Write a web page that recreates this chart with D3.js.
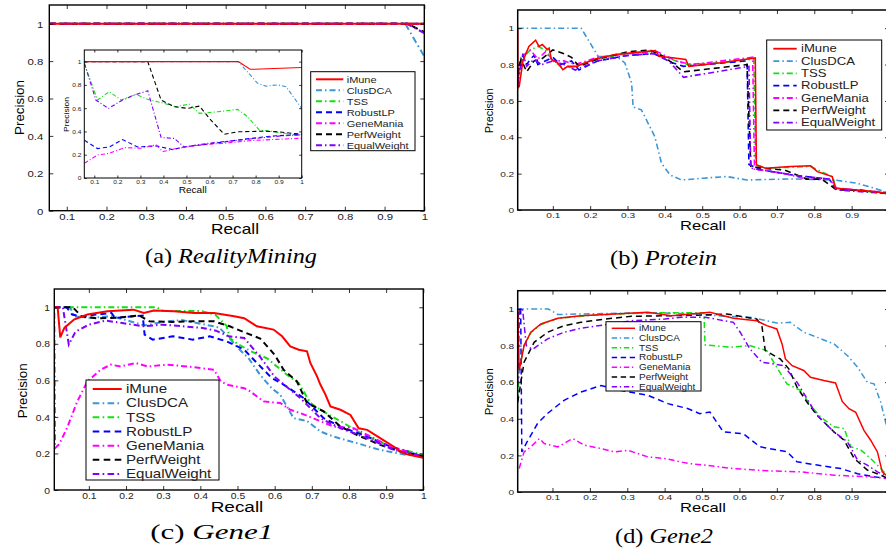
<!DOCTYPE html>
<html>
<head>
<meta charset="utf-8">
<script src="https://cdn.jsdelivr.net/npm/d3@7"></script>
<style>
  body { margin: 0; background: #fff; }
  text { font-family: "Liberation Sans", Arial, sans-serif; }
</style>
</head>
<body>
<svg id="fig" width="886" height="554"></svg>
<script>
// series names, in legend order
var methods = ["iMune", "ClusDCA", "TSS", "RobustLP", "GeneMania", "PerfWeight", "EqualWeight"];

var precisionTicks = [0, 0.2, 0.4, 0.6, 0.8, 1];
var precisionLabels = ["0", "0.2", "0.4", "0.6", "0.8", "1"];
var recallTicks = [0.1, 0.2, 0.3, 0.4, 0.5, 0.6, 0.7, 0.8, 0.9, 1];
var recallLabels = ["0.1", "0.2", "0.3", "0.4", "0.5", "0.6", "0.7", "0.8", "0.9", "1"];

var captions = [["(a) ", "RealityMining"], ["(b) ", "Protein"], ["(c) ", "Gene1"], ["(d) ", "Gene2"]];

// (a) RealityMining, [recall, precision] per method
var realityMining = [
    [[0.056, 1], [1, 1]],
    [[0.056, 1], [0.952, 1], [1, 0.825]],
    [[0.056, 1], [1, 1]],
    [[0.056, 1], [1, 1]],
    [[0.056, 1], [1, 1]],
    [[0.056, 1], [0.958, 1], [1, 0.955]],
    [[0.056, 1], [0.955, 1], [1, 0.95]]
];

// (a) inset
var realityInset = [
    [[0.057, 1], [0.725, 1], [0.776, 0.934], [1, 0.949]],
    [[0.057, 1], [0.725, 1], [0.77, 0.9], [0.809, 0.813], [0.845, 0.79], [0.896, 0.8], [0.932, 0.785], [1, 0.598]],
    [[0.057, 0.98], [0.114, 0.67], [0.165, 0.742], [0.216, 0.67], [0.281, 0.719], [0.332, 0.676], [0.404, 0.641],
     [0.455, 0.612], [0.512, 0.635], [0.556, 0.555], [0.635, 0.569], [0.722, 0.59], [0.766, 0.526], [0.816, 0.411],
     [0.867, 0.402], [0.925, 0.382], [1, 0.368]],
    [[0.057, 0.325], [0.114, 0.253], [0.165, 0.267], [0.223, 0.33], [0.288, 0.267], [0.368, 0.276], [0.44, 0.244],
     [0.49, 0.267], [0.635, 0.302], [0.737, 0.33], [0.867, 0.36], [1, 0.374]],
    [[0.057, 0.126], [0.114, 0.198], [0.165, 0.212], [0.23, 0.261], [0.303, 0.256], [0.368, 0.284], [0.397, 0.227],
     [0.462, 0.256], [0.563, 0.284], [0.664, 0.299], [0.78, 0.322], [1, 0.342]],
    [[0.057, 1], [0.332, 1], [0.39, 0.67], [0.447, 0.612], [0.505, 0.598], [0.556, 0.618], [0.606, 0.497],
     [0.664, 0.376], [0.722, 0.397], [0.824, 0.402], [0.896, 0.397], [1, 0.376]],
    [[0.057, 0.986], [0.107, 0.67], [0.161, 0.598], [0.223, 0.67], [0.274, 0.713], [0.332, 0.75], [0.39, 0.348],
     [0.447, 0.34], [0.49, 0.267], [0.6, 0.3], [0.75, 0.33], [0.9, 0.36], [1, 0.372]]
];

// (b) Protein
var protein = [
    [[0.006, 1], [0.006, 0.67], [0.01, 0.68], [0.02, 0.82], [0.036, 0.9], [0.054, 0.934], [0.063, 0.9], [0.072, 0.91],
     [0.085, 0.882], [0.09, 0.89], [0.096, 0.83], [0.113, 0.809], [0.127, 0.772], [0.14, 0.79], [0.163, 0.79],
     [0.213, 0.83], [0.267, 0.855], [0.312, 0.864], [0.375, 0.877], [0.384, 0.846], [0.42, 0.837], [0.456, 0.828],
     [0.464, 0.79], [0.55, 0.81], [0.642, 0.836], [0.645, 0.248], [0.669, 0.23], [0.736, 0.239], [0.79, 0.243],
     [0.808, 0.211], [0.848, 0.184], [0.857, 0.12], [0.915, 0.11], [0.96, 0.101], [1, 0.09]],
    [[0.006, 1], [0.176, 1], [0.221, 0.846], [0.275, 0.837], [0.293, 0.809], [0.311, 0.698], [0.315, 0.566],
     [0.337, 0.551], [0.373, 0.404], [0.391, 0.257], [0.414, 0.193], [0.445, 0.165], [0.503, 0.175], [0.566, 0.184],
     [0.62, 0.165], [0.736, 0.171], [0.853, 0.165], [0.915, 0.147], [0.96, 0.12], [1, 0.093]],
    [[0.006, 0.72], [0.02, 0.84], [0.04, 0.88], [0.06, 0.9], [0.08, 0.88], [0.1, 0.82], [0.13, 0.78], [0.16, 0.79],
     [0.22, 0.83], [0.3, 0.86], [0.375, 0.875], [0.4, 0.84], [0.46, 0.8], [0.55, 0.81], [0.638, 0.83], [0.643, 0.25],
     [0.67, 0.23], [0.74, 0.235], [0.79, 0.24], [0.85, 0.18], [0.857, 0.12], [1, 0.09]],
    [[0.006, 0.68], [0.01, 0.8], [0.02, 0.85], [0.03, 0.8], [0.04, 0.83], [0.05, 0.85], [0.06, 0.8], [0.08, 0.82],
     [0.1, 0.84], [0.12, 0.8], [0.15, 0.82], [0.17, 0.77], [0.22, 0.82], [0.3, 0.85], [0.37, 0.86], [0.42, 0.81],
     [0.45, 0.79], [0.62, 0.82], [0.625, 0.25], [0.66, 0.22], [0.75, 0.19], [0.84, 0.17], [0.855, 0.12],
     [0.93, 0.105], [1, 0.09]],
    [[0.006, 0.7], [0.02, 0.85], [0.04, 0.88], [0.06, 0.83], [0.08, 0.87], [0.1, 0.82], [0.13, 0.82], [0.16, 0.8],
     [0.22, 0.84], [0.3, 0.86], [0.38, 0.87], [0.43, 0.82], [0.47, 0.8], [0.635, 0.84], [0.64, 0.22], [0.66, 0.22],
     [0.72, 0.2], [0.78, 0.17], [0.84, 0.17], [0.86, 0.12], [1, 0.095]],
    [[0.006, 0.75], [0.015, 0.83], [0.03, 0.76], [0.05, 0.82], [0.07, 0.83], [0.1, 0.88], [0.13, 0.86], [0.15, 0.84],
     [0.17, 0.79], [0.22, 0.83], [0.3, 0.87], [0.36, 0.88], [0.4, 0.84], [0.45, 0.76], [0.62, 0.8], [0.63, 0.24],
     [0.66, 0.23], [0.72, 0.22], [0.78, 0.17], [0.82, 0.17], [0.86, 0.11], [0.92, 0.11], [1, 0.09]],
    [[0.006, 0.7], [0.02, 0.86], [0.03, 0.79], [0.05, 0.83], [0.07, 0.8], [0.1, 0.82], [0.13, 0.8], [0.16, 0.77],
     [0.22, 0.82], [0.3, 0.85], [0.37, 0.86], [0.41, 0.82], [0.45, 0.73], [0.625, 0.79], [0.63, 0.23], [0.66, 0.22],
     [0.75, 0.19], [0.84, 0.17], [0.86, 0.11], [1, 0.09]]
];

// (c) Gene1
var gene1 = [
    [[0.007, 1], [0.016, 1], [0.023, 0.835], [0.034, 0.887], [0.06, 0.933], [0.096, 0.96], [0.15, 0.978], [0.22, 0.987],
     [0.248, 0.969], [0.275, 0.982], [0.329, 0.978], [0.383, 0.969], [0.437, 0.969], [0.491, 0.951], [0.518, 0.94],
     [0.552, 0.896], [0.597, 0.878], [0.62, 0.841], [0.642, 0.786], [0.665, 0.768], [0.687, 0.759], [0.696, 0.695],
     [0.714, 0.622], [0.723, 0.577], [0.737, 0.521], [0.75, 0.457], [0.777, 0.439], [0.804, 0.411], [0.826, 0.338],
     [0.849, 0.329], [0.884, 0.284], [0.92, 0.238], [0.947, 0.201], [0.965, 0.192], [1, 0.177]],
    [[0.007, 1], [0.05, 1], [0.06, 0.95], [0.107, 0.942], [0.161, 0.951], [0.2, 0.93], [0.25, 0.9], [0.3, 0.92],
     [0.35, 0.93], [0.4, 0.91], [0.45, 0.89], [0.47, 0.85], [0.5, 0.78], [0.53, 0.72], [0.561, 0.63], [0.592, 0.557],
     [0.615, 0.521], [0.651, 0.393], [0.687, 0.378], [0.723, 0.32], [0.759, 0.292], [0.822, 0.256], [0.884, 0.219],
     [0.956, 0.192], [1, 0.186]],
    [[0.007, 1], [0.282, 1], [0.3, 0.98], [0.4, 0.98], [0.44, 0.96], [0.47, 0.9], [0.48, 0.83], [0.5, 0.8],
     [0.535, 0.76], [0.58, 0.72], [0.633, 0.631], [0.665, 0.585], [0.696, 0.476], [0.723, 0.439], [0.786, 0.366],
     [0.831, 0.311], [0.911, 0.238], [1, 0.192]],
    [[0.007, 1], [0.04, 1], [0.055, 0.96], [0.082, 0.95], [0.12, 0.96], [0.161, 0.969], [0.17, 0.942], [0.245, 0.955],
     [0.25, 0.85], [0.272, 0.823], [0.326, 0.841], [0.38, 0.823], [0.425, 0.841], [0.47, 0.814], [0.518, 0.768],
     [0.55, 0.7], [0.592, 0.613], [0.624, 0.577], [0.678, 0.503], [0.732, 0.393], [0.777, 0.347], [0.849, 0.292],
     [0.911, 0.238], [1, 0.183]],
    [[0.007, 0.97], [0.009, 0.229], [0.02, 0.25], [0.041, 0.338], [0.069, 0.485], [0.096, 0.594], [0.132, 0.658],
     [0.159, 0.686], [0.186, 0.676], [0.226, 0.695], [0.258, 0.676], [0.312, 0.686], [0.365, 0.676], [0.401, 0.667],
     [0.437, 0.658], [0.455, 0.594], [0.473, 0.576], [0.518, 0.557], [0.534, 0.54], [0.57, 0.485], [0.615, 0.476],
     [0.642, 0.439], [0.669, 0.421], [0.714, 0.384], [0.759, 0.347], [0.813, 0.338], [0.867, 0.284], [0.911, 0.238],
     [1, 0.183]],
    [[0.007, 1], [0.057, 1], [0.08, 0.95], [0.12, 0.94], [0.174, 0.942], [0.236, 0.955], [0.263, 0.923], [0.326, 0.92],
     [0.38, 0.923], [0.437, 0.923], [0.479, 0.896], [0.516, 0.865], [0.561, 0.829], [0.588, 0.768], [0.6, 0.74],
     [0.624, 0.658], [0.66, 0.594], [0.687, 0.476], [0.732, 0.43], [0.777, 0.347], [0.822, 0.301], [0.884, 0.247],
     [0.938, 0.21], [1, 0.183]],
    [[0.007, 1], [0.03, 1], [0.046, 0.796], [0.064, 0.866], [0.1, 0.905], [0.145, 0.927], [0.19, 0.914], [0.244, 0.896],
     [0.298, 0.905], [0.352, 0.896], [0.406, 0.887], [0.442, 0.872], [0.477, 0.841], [0.518, 0.832], [0.561, 0.728],
     [0.6, 0.62], [0.669, 0.503], [0.723, 0.393], [0.777, 0.338], [0.849, 0.284], [0.92, 0.22], [1, 0.183]]
];

// (d) Gene2
var gene2 = [
    [[0.007, 1], [0.011, 0.664], [0.024, 0.8], [0.042, 0.873], [0.069, 0.918], [0.114, 0.949], [0.176, 0.963],
     [0.266, 0.973], [0.355, 0.982], [0.418, 0.963], [0.521, 0.982], [0.584, 0.949], [0.646, 0.936], [0.673, 0.909],
     [0.7, 0.891], [0.714, 0.809], [0.723, 0.727], [0.741, 0.69], [0.772, 0.664], [0.79, 0.627], [0.826, 0.609],
     [0.857, 0.596], [0.875, 0.495], [0.893, 0.455], [0.911, 0.436], [0.933, 0.337], [0.951, 0.283], [0.969, 0.219],
     [0.982, 0.11], [1, 0.08]],
    [[0.007, 1], [0.089, 1], [0.114, 0.97], [0.36, 0.98], [0.494, 0.973], [0.557, 0.96], [0.628, 0.955], [0.673, 0.936],
     [0.7, 0.923], [0.736, 0.927], [0.772, 0.873], [0.808, 0.845], [0.853, 0.809], [0.889, 0.745], [0.916, 0.682],
     [0.942, 0.6], [0.96, 0.591], [0.978, 0.49], [0.991, 0.381], [1, 0.3]],
    [[0.007, 0.5], [0.012, 0.68], [0.024, 0.8], [0.042, 0.87], [0.069, 0.915], [0.114, 0.948], [0.2, 0.965],
     [0.3, 0.975], [0.4, 0.98], [0.505, 0.98], [0.508, 0.804], [0.575, 0.791], [0.628, 0.8], [0.673, 0.773],
     [0.705, 0.664], [0.727, 0.591], [0.763, 0.555], [0.79, 0.473], [0.817, 0.41], [0.853, 0.356], [0.88, 0.347],
     [0.898, 0.247], [0.925, 0.229], [0.951, 0.183], [0.978, 0.128], [1, 0.08]],
    [[0.007, 0.95], [0.012, 1], [0.015, 1], [0.018, 0.219], [0.032, 0.274], [0.06, 0.374], [0.086, 0.428],
     [0.131, 0.501], [0.176, 0.546], [0.23, 0.582], [0.284, 0.555], [0.355, 0.528], [0.409, 0.483], [0.463, 0.455],
     [0.494, 0.428], [0.521, 0.437], [0.557, 0.328], [0.61, 0.319], [0.655, 0.247], [0.727, 0.22], [0.754, 0.165],
     [0.808, 0.147], [0.871, 0.128], [0.916, 0.1], [0.96, 0.083], [1, 0.072]],
    [[0.011, 0.128], [0.024, 0.219], [0.042, 0.246], [0.065, 0.292], [0.078, 0.265], [0.114, 0.246], [0.154, 0.292],
     [0.185, 0.256], [0.23, 0.237], [0.266, 0.219], [0.302, 0.228], [0.355, 0.192], [0.4, 0.183], [0.463, 0.156],
     [0.508, 0.147], [0.584, 0.128], [0.673, 0.116], [0.763, 0.11], [0.853, 0.092], [0.942, 0.083], [1, 0.075]],
    [[0.007, 0.49], [0.024, 0.709], [0.051, 0.818], [0.087, 0.873], [0.131, 0.909], [0.176, 0.927], [0.239, 0.945],
     [0.311, 0.96], [0.4, 0.963], [0.508, 0.967], [0.566, 0.973], [0.646, 0.945], [0.66, 0.909], [0.669, 0.773],
     [0.709, 0.727], [0.732, 0.673], [0.754, 0.573], [0.781, 0.49], [0.808, 0.418], [0.853, 0.328], [0.88, 0.283],
     [0.907, 0.183], [0.942, 0.12], [0.978, 0.092], [1, 0.072]],
    [[0.007, 0.6], [0.012, 1], [0.02, 1], [0.03, 0.8], [0.047, 0.78], [0.087, 0.837], [0.131, 0.873], [0.176, 0.895],
     [0.239, 0.913], [0.311, 0.936], [0.4, 0.945], [0.445, 0.955], [0.508, 0.955], [0.584, 0.927], [0.602, 0.873],
     [0.628, 0.782], [0.66, 0.709], [0.691, 0.7], [0.718, 0.691], [0.754, 0.6], [0.781, 0.509], [0.808, 0.418],
     [0.853, 0.328], [0.889, 0.274], [0.916, 0.174], [0.942, 0.147], [0.969, 0.11], [1, 0.08]]
];

// styles (matlab-ish)
var colors = ["#ff0000", "#3a97d8", "#11e011", "#0000ff", "#ff00ff", "#000000", "#8000ff"];
var styles = ["solid", "dashdot", "dashdot", "dash", "dashdot", "dash", "dashdot"];
var drawOrder = [1, 2, 3, 4, 5, 6, 0];

function dashFor(style, k) {
    if (style == "dash") return [6 * k, 4 * k].join(",");
    if (style == "dashdot") return [6 * k, 3 * k, 1.5 * k, 3 * k].join(",");
    return null;
}

var svg = d3.select("#fig");
svg.append("rect").attr("width", 886).attr("height", 554).attr("fill", "#fff");

// stretched / fitted text
function fitText(parent, parts, x, y, size, width, rotated, family) {
    var t = parent.append("text")
        .attr("font-size", size)
        .attr("text-anchor", "middle")
        .attr("fill", "#000");
    if (family) t.style("font-family", family);
    parts.forEach(function (p) {
        t.append("tspan").text(p[0]).attr("font-style", p[1] ? "italic" : null);
    });
    var k = width / t.node().getComputedTextLength();
    t.attr("transform", "translate(" + x + "," + y + ")" + (rotated ? " rotate(-90)" : "") + " scale(" + k + ",1)");
    return t;
}

var clipId = 0;

function drawPanel(cfg, data) {
    var g = svg.append("g");
    var x = d3.scaleLinear().domain([cfg.x0, 1]).range([cfg.left, cfg.right]);
    var y = d3.scaleLinear().domain([0, 1.1]).range([cfg.bottom, cfg.top]);

    g.append("rect")
        .attr("x", cfg.left).attr("y", cfg.top)
        .attr("width", cfg.right - cfg.left).attr("height", cfg.bottom - cfg.top)
        .attr("fill", "#fff");

    var id = "clip" + (clipId++);
    g.append("clipPath").attr("id", id).append("rect")
        .attr("x", cfg.left).attr("y", cfg.top)
        .attr("width", cfg.right - cfg.left).attr("height", cfg.bottom - cfg.top);

    var line = d3.line().x(function (d) { return x(d[0]); }).y(function (d) { return y(d[1]); });

    g.append("g").attr("clip-path", "url(#" + id + ")")
        .selectAll("path")
        .data(drawOrder)
        .enter().append("path")
        .attr("d", function (i) { return line(data[i]); })
        .attr("fill", "none")
        .attr("stroke", function (i) { return colors[i]; })
        .attr("stroke-width", cfg.lw)
        .attr("stroke-dasharray", function (i) { return dashFor(styles[i], cfg.dk); });

    // ticks on all four sides, pointing in
    var xt = recallTicks.filter(function (t) { return x(t) <= 886; });
    var xl = xt.map(function (t) { return recallLabels[recallTicks.indexOf(t)]; });

    var bottom = g.append("g").attr("transform", "translate(0," + cfg.bottom + ")")
        .call(d3.axisBottom(x).tickValues(xt).tickSize(-cfg.tick).tickSizeOuter(0)
            .tickFormat(function (d, i) { return xl[i]; }));
    var top = g.append("g").attr("transform", "translate(0," + cfg.top + ")")
        .call(d3.axisTop(x).tickValues(xt).tickSize(-cfg.tick).tickSizeOuter(0).tickFormat(""));
    var left = g.append("g").attr("transform", "translate(" + cfg.left + ",0)")
        .call(d3.axisLeft(y).tickValues(precisionTicks).tickSize(-cfg.tick).tickSizeOuter(0)
            .tickFormat(function (d, i) { return precisionLabels[i]; }));
    var right = g.append("g").attr("transform", "translate(" + cfg.right + ",0)")
        .call(d3.axisRight(y).tickValues(precisionTicks).tickSize(-cfg.tick).tickSizeOuter(0).tickFormat(""));

    [bottom, top, left, right].forEach(function (a) {
        a.select(".domain").remove();
        a.selectAll("line").attr("stroke", "#000").attr("stroke-width", 0.8);
        a.selectAll("text").attr("font-size", cfg.tickFont).attr("fill", "#222")
            .style("font-family", "'Liberation Sans', Arial, sans-serif");
    });
    bottom.selectAll("text")
        .attr("y", null).attr("dy", null)
        .attr("transform", "translate(0," + cfg.xLab + ") scale(" + cfg.sx + ",1)");
    left.selectAll("text")
        .attr("x", null).attr("dy", "0.35em")
        .attr("transform", "translate(" + (-cfg.yLab) + ",0) scale(" + cfg.sx + ",1)");

    // axes box
    g.append("rect")
        .attr("x", cfg.left).attr("y", cfg.top)
        .attr("width", cfg.right - cfg.left).attr("height", cfg.bottom - cfg.top)
        .attr("fill", "none").attr("stroke", "#000").attr("stroke-width", cfg.box);

    fitText(g, [["Recall"]], cfg.recall[0], cfg.recall[1], cfg.recall[2], cfg.recall[3], false);
    fitText(g, [["Precision"]], cfg.prec[0], cfg.prec[1], cfg.prec[2], cfg.prec[3], true);

    if (cfg.legend) drawLegend(g, cfg.legend);
    return g;
}

function drawLegend(g, L) {
    var lg = g.append("g");
    lg.append("rect")
        .attr("x", L.x).attr("y", L.y).attr("width", L.w).attr("height", L.h)
        .attr("fill", "#fff").attr("stroke", "#000").attr("stroke-width", 1);
    var rows = lg.selectAll("g.row").data(methods).enter().append("g")
        .attr("transform", function (d, i) { return "translate(0," + (L.row0 + i * L.step) + ")"; });
    rows.append("line")
        .attr("x1", L.l0).attr("x2", L.l1).attr("y1", 0).attr("y2", 0)
        .attr("stroke", function (d, i) { return colors[i]; })
        .attr("stroke-width", L.lw)
        .attr("stroke-dasharray", function (d, i) { return dashFor(styles[i], L.dk); });
    rows.append("text")
        .attr("font-size", L.font)
        .attr("fill", "#222")
        .attr("dy", "0.36em")
        .attr("transform", "translate(" + L.tx + ",0) scale(" + L.sx + ",1)")
        .text(function (d) { return d; });
}

var panelA = {
    x0: 0.056, left: 49.3, right: 424.3, top: 5, bottom: 210.7,
    lw: 2, dk: 1.1, tick: 4, tickFont: 9.5, sx: 1.2, xLab: 9, yLab: 6, box: 1.4,
    recall: [235, 234, 15, 48], prec: [24, 107.5, 13.5, 55]
};
var panelInset = {
    x0: 0.0566, left: 84.3, right: 301.7, top: 50, bottom: 178,
    lw: 1.1, dk: 0.7, tick: 2.5, tickFont: 5.5, sx: 1.2, xLab: 6, yLab: 2.8, box: 1,
    recall: [192.7, 193, 8.5, 28], prec: [69, 114.5, 8, 35]
};
var panelB = {
    x0: 0.006, left: 517.7, right: 889, top: 10, bottom: 210,
    lw: 1.6, dk: 1, tick: 4, tickFont: 7.5, sx: 1.35, xLab: 7.5, yLab: 3.5, box: 1.5,
    recall: [703, 230, 12, 46], prec: [493, 110.8, 11, 45],
    legend: { x: 766.7, y: 40, w: 115, h: 90, row0: 48.7, step: 12.33, l0: 773.3, l1: 796.7, tx: 801,
              font: 10.5, sx: 1.25, lw: 1.8, dk: 1 }
};
var panelC = {
    x0: 0.007, left: 54.3, right: 423.3, top: 289, bottom: 490,
    lw: 2, dk: 1, tick: 4, tickFont: 9, sx: 1.15, xLab: 8.5, yLab: 4.3, box: 1.4,
    recall: [237, 512.3, 15, 52.7], prec: [26.5, 390.8, 13.5, 55],
    legend: { x: 86, y: 380, w: 133, h: 100, row0: 389, step: 14.17, l0: 92.7, l1: 121.7, tx: 126,
              font: 12, sx: 1.26, lw: 2, dk: 1.1 }
};
var panelD = {
    x0: 0.007, left: 517.7, right: 889, top: 290.7, bottom: 492,
    lw: 1.5, dk: 1, tick: 4, tickFont: 7.5, sx: 1.35, xLab: 7.5, yLab: 3.5, box: 1.5,
    recall: [703, 511.7, 12, 46], prec: [493, 391.7, 11.4, 47],
    legend: { x: 606, y: 321.7, w: 95, h: 69.3, row0: 328.3, step: 9.73, l0: 611.7, l1: 635, tx: 639,
              font: 8.3, sx: 1.2, lw: 1.5, dk: 0.9 }
};

drawPanel(panelA, realityMining);
drawPanel(panelInset, realityInset);
drawLegend(svg, { x: 310.7, y: 71.7, w: 104.3, h: 79, row0: 79.3, step: 11, l0: 316, l1: 343.3, tx: 346.7,
                  font: 9, sx: 1.22, lw: 2, dk: 1 });
drawPanel(panelB, protein);
drawPanel(panelC, gene1);
drawPanel(panelD, gene2);

// captions
var serif = "'Liberation Serif', 'Times New Roman', serif";
var capPos = [[231, 263.3, 21, 172], [663.5, 265, 21, 107], [211.7, 539.3, 22, 123], [664, 543.3, 21, 98]];
captions.forEach(function (c, i) {
    var p = capPos[i];
    fitText(svg, [[c[0], false], [c[1], true]], p[0], p[1], p[2], p[3], false, serif);
});
</script>
</body>
</html>
